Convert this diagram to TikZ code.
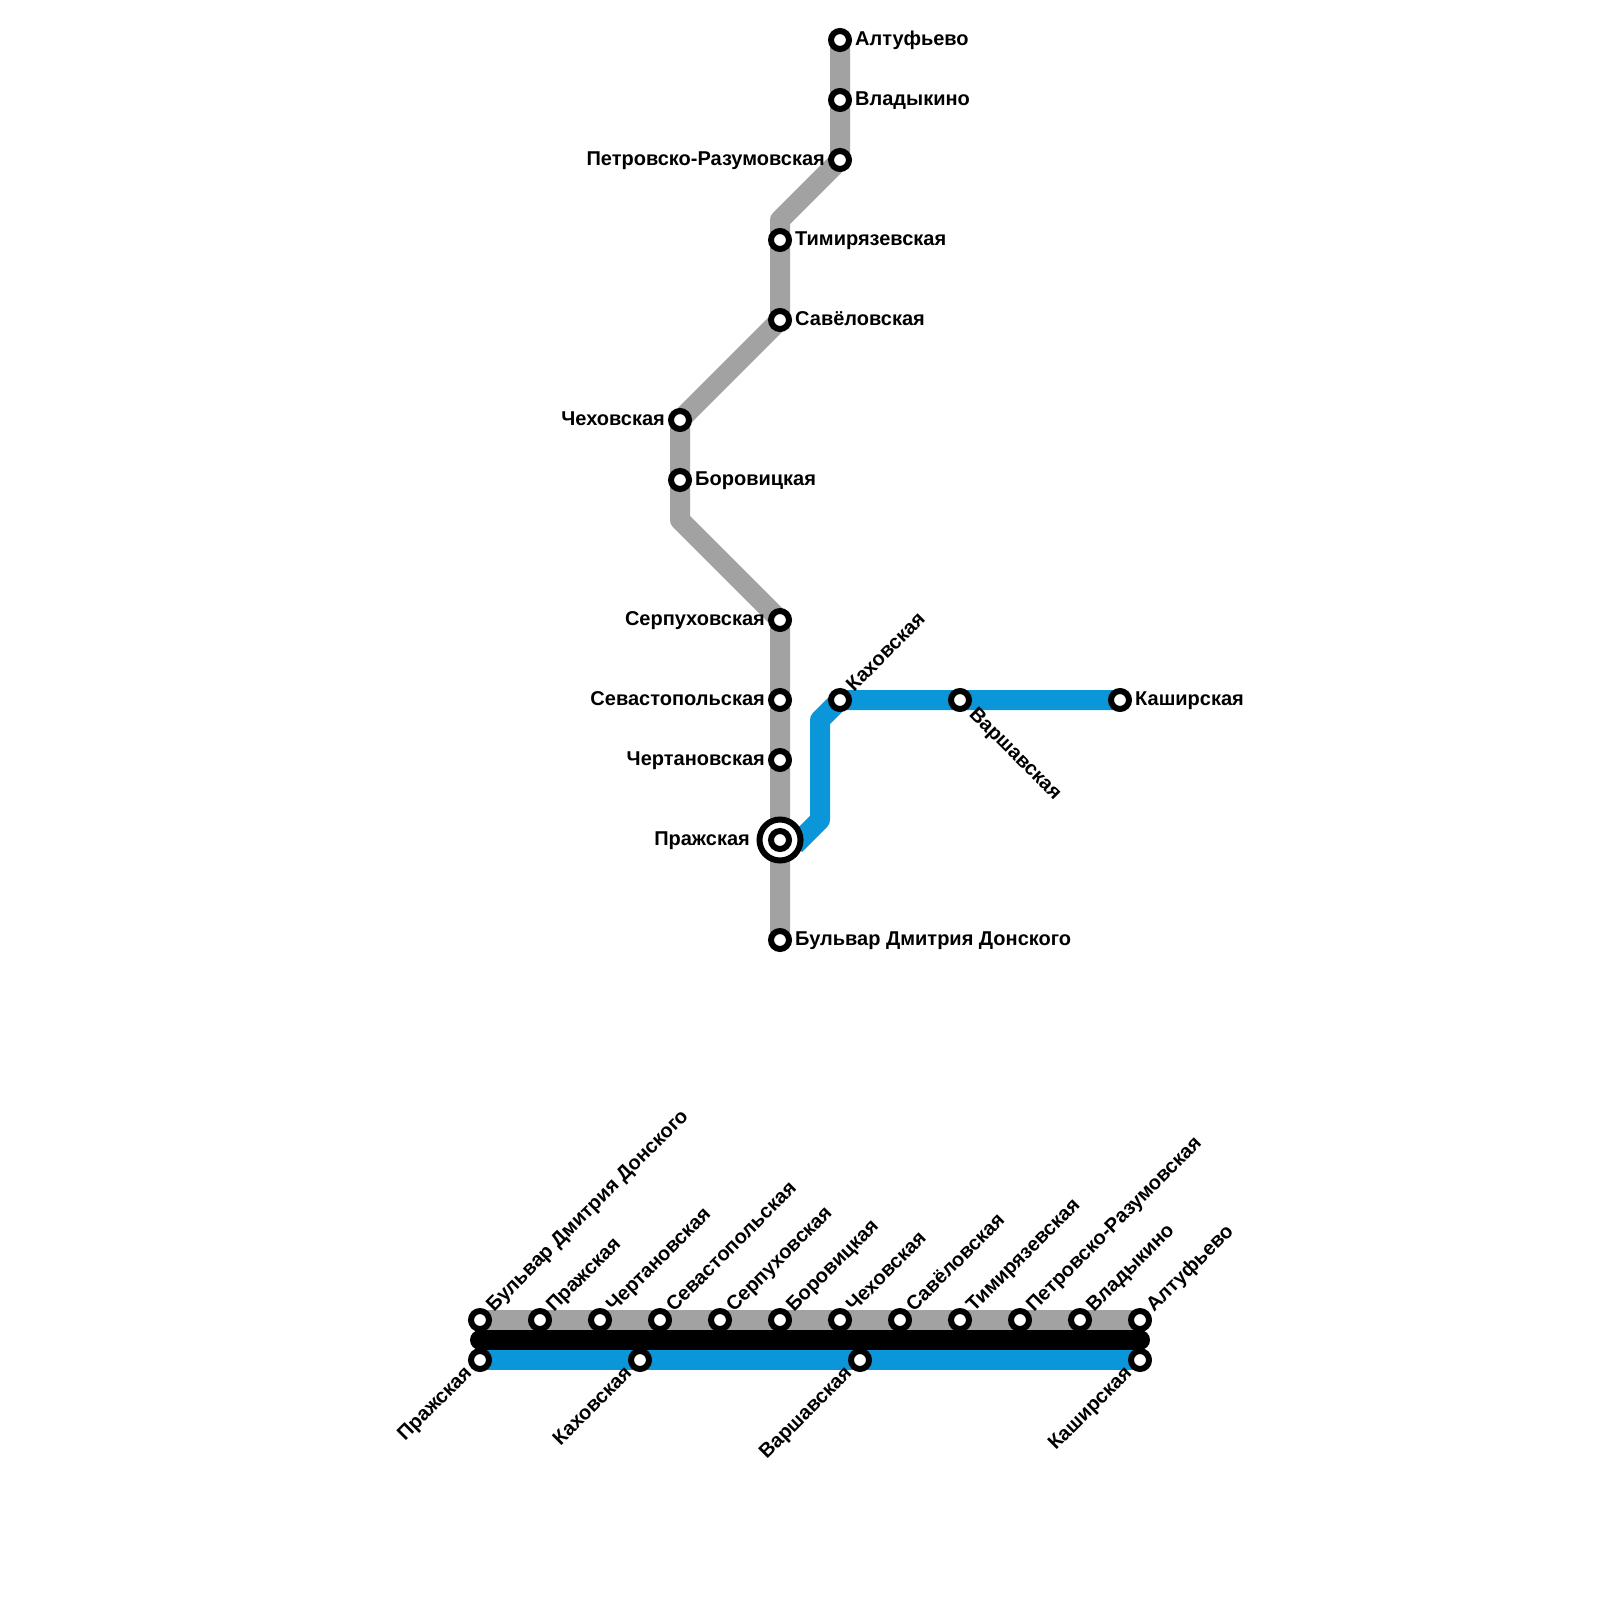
\documentclass[tikz,border=0pt]{standalone}
\usepackage{fontspec}
\setmainfont{Liberation Sans}
\usetikzlibrary{backgrounds}
\definecolor{greyline}{HTML}{A2A2A2}
\definecolor{blueline}{HTML}{0A96D8}
\tikzset{
  x=1pt,y=-1pt,
  station/.style={circle,draw=black,fill=white,line width=6pt,minimum size=18pt,inner sep=0pt},
  hub/.style={circle,draw=black,fill=white,line width=6pt,minimum size=41pt,inner sep=0pt},
  lbl/.style={font=\bfseries\fontsize{20}{22}\selectfont,text=black,inner sep=0pt},
  R/.style={lbl,anchor=mid west},
  L/.style={lbl,anchor=mid east},
  UP/.style={lbl,anchor=mid west,rotate=45},
  DN/.style={lbl,anchor=mid east,rotate=45},
  DR/.style={lbl,anchor=mid west,rotate=-45},
  greyl/.style={draw=greyline,line width=20pt,line join=round},
  bluel/.style={draw=blueline,line width=20pt,line join=round},
  blackl/.style={draw=black,line width=20pt,line cap=round},
}
\begin{document}
\begin{tikzpicture}
\useasboundingbox (0,0) rectangle (1600,1600);
% upper scheme: hub
\node[hub] (hub) at (780,840) {};
% stations
\node[station] (a1) at (840,40) {};
\node[station] (a2) at (840,100) {};
\node[station] (a3) at (840,160) {};
\coordinate (b1) at (780,220);
\node[station] (a4) at (780,240) {};
\node[station] (a5) at (780,320) {};
\node[station] (a6) at (680,420) {};
\node[station] (a7) at (680,480) {};
\coordinate (b2) at (680,520);
\node[station] (a8) at (780,620) {};
\node[station] (a9) at (780,700) {};
\node[station] (a10) at (780,760) {};
\node[station] (a11) at (780,840) {};
\node[station] (a12) at (780,940) {};
\coordinate (c0) at (795,845);
\coordinate (c1) at (820,820);
\coordinate (c2) at (820,720);
\node[station] (c3) at (840,700) {};
\node[station] (c4) at (960,700) {};
\node[station] (c5) at (1120,700) {};
% upper labels
\node[R] (la1) at (855,43) {Алтуфьево};
\node[R] (la2) at (855,103) {Владыкино};
\node[L] (la3) at (825,163) {Петровско-Разумовская};
\node[R] (la4) at (795,243) {Тимирязевская};
\node[R] (la5) at (795,323) {Савёловская};
\node[L] (la6) at (665,423) {Чеховская};
\node[R] (la7) at (695,483) {Боровицкая};
\node[L] (la8) at (765,623) {Серпуховская};
\node[L] (la9) at (765,703) {Севастопольская};
\node[L] (la10) at (765,763) {Чертановская};
\node[L] (la11) at (750,843) {Пражская};
\node[R] (la12) at (795,943) {Бульвар Дмитрия Донского};
\node[UP] (lc3) at (852,691) {Каховская};
\node[DR] (lc4) at (970,713) {Варшавская};
\node[R] (lc5) at (1135,703) {Каширская};
% lower scheme
\node[station] (g1) at (480,1320) {};
\node[station] (g2) at (540,1320) {};
\node[station] (g3) at (600,1320) {};
\node[station] (g4) at (660,1320) {};
\node[station] (g5) at (720,1320) {};
\node[station] (g6) at (780,1320) {};
\node[station] (g7) at (840,1320) {};
\node[station] (g8) at (900,1320) {};
\node[station] (g9) at (960,1320) {};
\node[station] (g10) at (1020,1320) {};
\node[station] (g11) at (1080,1320) {};
\node[station] (g12) at (1140,1320) {};
\node[station] (h1) at (480,1360) {};
\node[station] (h2) at (640,1360) {};
\node[station] (h3) at (860,1360) {};
\node[station] (h4) at (1140,1360) {};
\coordinate (k1) at (480,1340);
\coordinate (k2) at (1140,1340);
\node[UP] (lg1) at (492,1311) {Бульвар Дмитрия Донского};
\node[UP] (lg2) at (552,1311) {Пражская};
\node[UP] (lg3) at (612,1311) {Чертановская};
\node[UP] (lg4) at (672,1311) {Севастопольская};
\node[UP] (lg5) at (732,1311) {Серпуховская};
\node[UP] (lg6) at (792,1311) {Боровицкая};
\node[UP] (lg7) at (852,1311) {Чеховская};
\node[UP] (lg8) at (912,1311) {Савёловская};
\node[UP] (lg9) at (972,1311) {Тимирязевская};
\node[UP] (lg10) at (1032,1311) {Петровско-Разумовская};
\node[UP] (lg11) at (1092,1311) {Владыкино};
\node[UP] (lg12) at (1152,1311) {Алтуфьево};
\node[DN] (lh1) at (471,1372) {Пражская};
\node[DN] (lh2) at (631,1372) {Каховская};
\node[DN] (lh3) at (851,1372) {Варшавская};
\node[DN] (lh4) at (1131,1372) {Каширская};
\begin{scope}[on background layer]
\draw[greyl] (a1.center) -- (a2.center) -- (a3.center) -- (b1) -- (a4.center) -- (a5.center) -- (a6.center) -- (a7.center) -- (b2) -- (a8.center) -- (a9.center) -- (a10.center) -- (a11.center) -- (a12.center);
\draw[bluel] (c0) -- (c1) -- (c2) -- (c3.center) -- (c4.center) -- (c5.center);
\draw[greyl] (g1.center) -- (g12.center);
\draw[bluel] (h1.center) -- (h4.center);
\draw[blackl] (k1) -- (k2);
\end{scope}
\end{tikzpicture}
\end{document}
